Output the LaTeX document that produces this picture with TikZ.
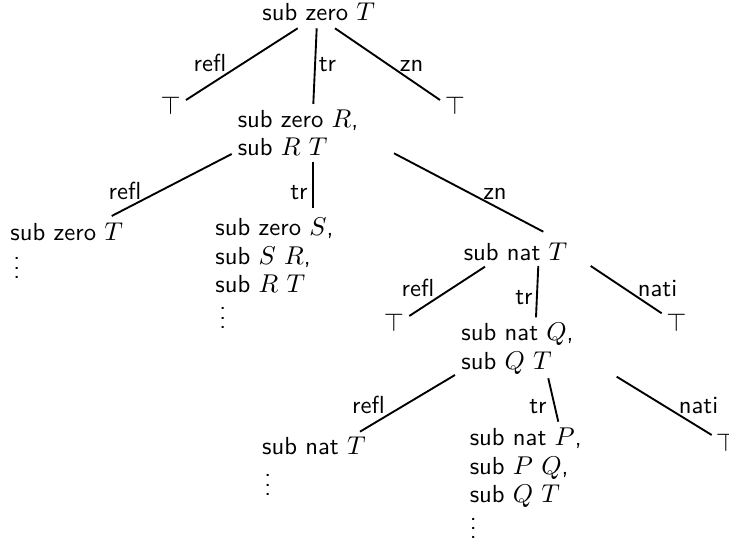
\documentclass[tikz,border=0pt]{standalone}
% a column of three dots without the empty space \vdots keeps above them
\newcommand\dotcolumn{\vbox{\baselineskip4pt\lineskiplimit0pt\hbox{.}\hbox{.}\hbox{.}}}
\begin{document}
\begin{tikzpicture}[x=0.4255pt, y=-0.4255pt,
  every node/.style={font=\sffamily\fontsize{10.5pt}{12pt}\selectfont, inner sep=0pt},
  goal/.style={anchor=base west},
  goals/.style={anchor=north west, align=left},
  truth/.style={anchor=base},
  rulename/.style={anchor=base},
  more/.style={anchor=base},
  link/.style={line width=0.8pt}]
\useasboundingbox (0,0) rectangle (729,550);

% goals
\node[goal]  (root) at (262,21)      {sub zero $T$};
\node[goals] (b1)   at (237.3,109.6) {sub zero $R$,\\ sub $R$ $T$};
\node[goals] (l1)   at (10,222.9)    {sub zero $T$};
\node[goals] (sb)   at (215,217.9)   {sub zero $S$,\\ sub $S$ $R$,\\ sub $R$ $T$};
\node[goal]  (nt)   at (463.3,260.5) {sub nat $T$};
\node[goals] (qb)   at (461,322.9)   {sub nat $Q$,\\ sub $Q$ $T$};
\node[goals] (l2)   at (261.7,436.2) {sub nat $T$};
\node[goals] (pb)   at (469.3,427.9) {sub nat $P$,\\ sub $P$ $Q$,\\ sub $Q$ $T$};

% closed branches
\node[truth] (ta) at (170.7,115) {$\top$};
\node[truth] (tb) at (455,115)   {$\top$};
\node[truth] (tc) at (394,331.7) {$\top$};
\node[truth] (td) at (676.5,332) {$\top$};
\node[truth] (te) at (726,452)   {$\top$};

% open continuations
\node[more] (da) at (16.7,278.6)  {\dotcolumn};
\node[more] (db) at (222.7,328.6) {\dotcolumn};
\node[more] (dc) at (267.7,495.6) {\dotcolumn};
\node[more] (dd) at (473.3,538.9) {\dotcolumn};

% rule applications
\draw[link] ([shift={(35.7,7.3)}]root.base west) -- ([shift={(15.3,-15)}]ta.base);
\draw[link] ([shift={(54.7,7.3)}]root.base west) -- ([shift={(76,-5.6)}]b1.north west);
\draw[link] ([shift={(73,7.3)}]root.base west)   -- ([shift={(-15,-15)}]tb.base);

\draw[link] ([shift={(-5.6,44.4)}]b1.north west)  -- ([shift={(101.7,-6.9)}]l1.north west);
\draw[link] ([shift={(76,52.1)}]b1.north west)    -- ([shift={(98.3,-9.6)}]sb.north west);
\draw[link] ([shift={(156.7,43.7)}]b1.north west) -- ([shift={(80,-28.8)}]nt.base west);

\draw[link] ([shift={(21.7,6.2)}]nt.base west)  -- ([shift={(15.3,-15.7)}]tc.base);
\draw[link] ([shift={(75,5.5)}]nt.base west)    -- ([shift={(75,-5.6)}]qb.north west);
\draw[link] ([shift={(127.4,5.5)}]nt.base west) -- ([shift={(-14.8,-18.7)}]td.base);

\draw[link] ([shift={(-6,52.1)}]qb.north west)  -- ([shift={(98.3,-4.5)}]l2.north west);
\draw[link] ([shift={(87.3,55.4)}]qb.north west) -- ([shift={(89,-6.2)}]pb.north west);
\draw[link] ([shift={(155.7,53.8)}]qb.north west) -- ([shift={(-14.3,-17)}]te.base);

% rule names
\node[rulename] (r1) at (210,71.7)   {refl};
\node[rulename] (r2) at (327.5,71.7) {tr};
\node[rulename] (r3) at (411.7,71.7) {zn};
\node[rulename] (r4) at (125,200)    {refl};
\node[rulename] (r5) at (299,200)    {tr};
\node[rulename] (r6) at (495,200)    {zn};
\node[rulename] (r7) at (418,296.7)  {refl};
\node[rulename] (r8) at (524,305)    {tr};
\node[rulename] (r9) at (657.5,296.7) {nati};
\node[rulename] (r10) at (368.5,414) {refl};
\node[rulename] (r11) at (538,414)   {tr};
\node[rulename] (r12) at (698.5,414) {nati};
\end{tikzpicture}
\end{document}
